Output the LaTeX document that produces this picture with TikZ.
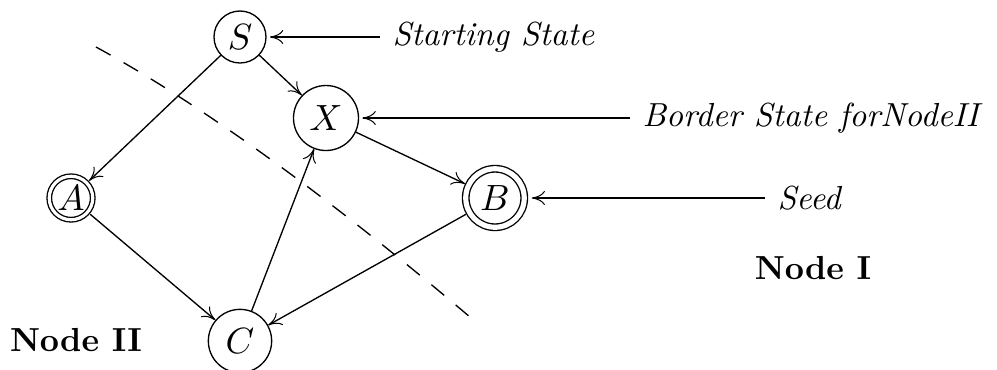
\documentclass[tikz,border=0pt]{standalone}
\usetikzlibrary{arrows.meta}
\begin{document}
\begin{tikzpicture}[x=0.3pt,y=-0.3pt,
  st/.style={circle,draw,line width=0.4pt,inner sep=0pt,font=\fontsize{11}{13}\selectfont},
  acc/.style={st,double,double distance=#1},
  edge/.style={line width=0.4pt,-{To[length=4pt,width=4.2pt,line width=0.3pt]}},
  ptr/.style={line width=0.8pt,-{To[length=4pt,width=4.2pt,line width=0.3pt]},shorten >=1pt},
  lab/.style={inner ysep=0pt,font=\fontsize{10}{12}\selectfont\itshape},
  big/.style={inner sep=0pt,font=\fontsize{10}{12}\selectfont\bfseries},
  border/.style={line width=0.4pt,dash pattern=on 5pt off 4.5pt}]
\useasboundingbox (0,0) rectangle (997,369);
% states
\node[st,minimum size=15.6pt] (S) at (240,37) {$S$};
\node[st,minimum size=19.5pt] (X) at (326,118) {$X$};
\node[acc=0.95pt,minimum size=13.05pt,outer sep=1pt] (A) at (71,198) {$A$};
\node[acc=1.55pt,minimum size=17.55pt,outer sep=1.2pt] (B) at (495,198) {$B$};
\node[st,minimum size=19pt] (C) at (240,341) {$C$};
% transitions
\draw[edge] (S) -- (A);
\draw[edge] (S) -- (X);
\draw[edge] (X) -- (B);
\draw[edge] (A) -- (C);
\draw[edge] (B) -- (C);
\draw[edge] (C) -- (X);
% partition line
\coordinate (d1) at (96,47);
\coordinate (d2) at (477,323);
\draw[border] (d1) .. controls (202,105) and (329,197) .. (d2);
% labels
\node[lab,anchor=west,inner xsep=3.6pt] (LS) at (380,37) {Starting State};
\node[lab,anchor=west,inner xsep=3.6pt] (LX) at (630,118) {Border State forNodeII};
\node[lab,anchor=west,inner xsep=3.6pt] (LB) at (765,198) {Seed};
\draw[ptr] (LS.west) -- (S.east);
\draw[ptr] (LX.west) -- (X.east);
\draw[ptr] (LB.west) -- (B.east);
\node[big] (N1) at (813,268) {Node I};
\node[big] (N2) at (76,340) {Node II};
\end{tikzpicture}
\end{document}
